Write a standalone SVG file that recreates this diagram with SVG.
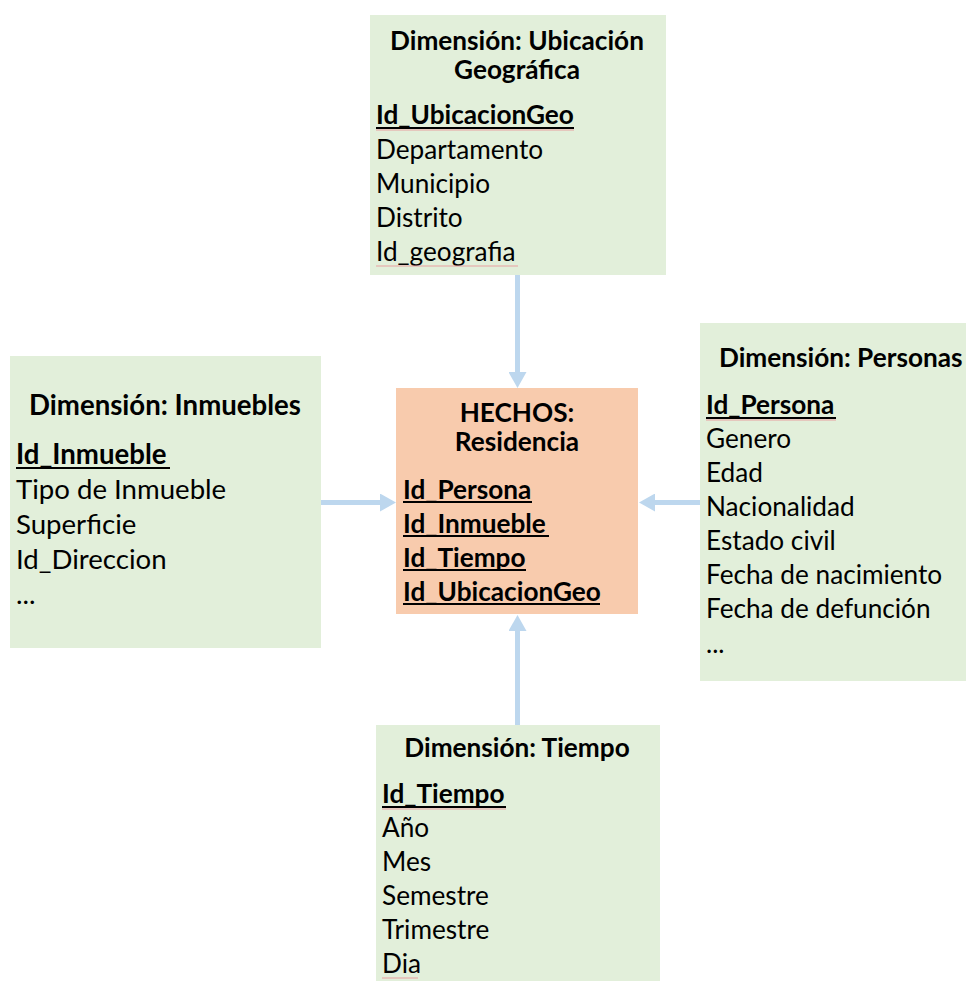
<svg xmlns="http://www.w3.org/2000/svg" width="966" height="981" viewBox="0 0 966 981">
  <style>
    .dim { fill: #E2EFDA; }
    .fact { fill: #F8CBAD; }
    text { font-family: Lato, "Open Sans", "Liberation Sans", sans-serif; font-size: 26.2px; fill: #000; }
    .t { font-weight: bold; text-anchor: middle; }
    .k { font-weight: bold; }
    .big { font-size: 27.6px; }
    .ul { stroke: #000; stroke-width: 2; }
    .sp { stroke: #E8A0A0; stroke-width: 1.2; fill: none; }
    .conn { stroke: #BDD7EE; stroke-width: 5; fill: none; marker-end: url(#head); }
  </style>
  <defs>
    <marker id="head" markerUnits="userSpaceOnUse" markerWidth="16" markerHeight="18" refX="0" refY="9" orient="auto">
      <path d="M0,0 L16,9 L0,18 Z" fill="#BDD7EE"/>
    </marker>
  </defs>
  <rect width="966" height="981" fill="#fff"/>

  <!-- connectors: each dimension points to the fact table -->
  <g id="connectors">
    <line class="conn" x1="517.5" y1="275" x2="517.5" y2="372"/>
    <line class="conn" x1="517.5" y1="725" x2="517.5" y2="631"/>
    <line class="conn" x1="321" y1="502.5" x2="380" y2="502.5"/>
    <line class="conn" x1="700" y1="502.5" x2="655" y2="502.5"/>
  </g>

  <!-- Dimensión: Ubicación Geográfica -->
  <g id="dim-ubicacion">
    <rect class="dim" x="370" y="15" width="296" height="260"/>
    <text class="t" x="517" y="50">Dimensión: Ubicación</text>
    <text class="t" x="517" y="79">Geográfica</text>
    <text class="k" x="376" y="124">Id_UbicacionGeo</text>
    <line class="ul" x1="376" y1="128" x2="574" y2="128"/>
    <path class="sp" d="M376,130 H574"/>
    <text x="376" y="159">Departamento</text>
    <text x="376" y="193">Municipio</text>
    <text x="376" y="227">Distrito</text>
    <text x="376" y="261">Id_geografia</text>
    <path class="sp" d="M376,266 H518"/>
  </g>

  <!-- HECHOS: Residencia -->
  <g id="hechos">
    <rect class="fact" x="396" y="388" width="242" height="226"/>
    <text class="t" x="517" y="422">HECHOS:</text>
    <text class="t" x="517" y="451">Residencia</text>
    <text class="k" x="403" y="499">Id_Persona</text>
    <line class="ul" x1="403" y1="502" x2="532" y2="502"/>
    <text class="k" x="403" y="533">Id_Inmueble</text>
    <line class="ul" x1="403" y1="536" x2="549" y2="536"/>
    <text class="k" x="403" y="567">Id_Tiempo</text>
    <line class="ul" x1="403" y1="570" x2="526" y2="570"/>
    <text class="k" x="403" y="601">Id_UbicacionGeo</text>
    <line class="ul" x1="403" y1="604" x2="600" y2="604"/>
  </g>

  <!-- Dimensión: Inmuebles -->
  <g id="dim-inmuebles">
    <rect class="dim" x="10" y="356" width="311" height="292"/>
    <text class="t big" x="165" y="415">Dimensión: Inmuebles</text>
    <text class="k big" x="16" y="464">Id_Inmueble</text>
    <line class="ul" x1="16" y1="468" x2="170" y2="468"/>
    <text class="big" x="16" y="499">Tipo de Inmueble</text>
    <text class="big" x="16" y="534">Superficie</text>
    <text class="big" x="16" y="569">Id_Direccion</text>
    <text class="big" x="16" y="604">...</text>
  </g>

  <!-- Dimensión: Personas -->
  <g id="dim-personas">
    <rect class="dim" x="700" y="323" width="266" height="358"/>
    <text class="k" x="719" y="367">Dimensión: Personas</text>
    <text class="k" x="706" y="414">Id_Persona</text>
    <line class="ul" x1="706" y1="418" x2="836" y2="418"/>
    <path class="sp" d="M706,420 H836"/>
    <text x="706" y="448">Genero</text>
    <text x="706" y="482">Edad</text>
    <text x="706" y="516">Nacionalidad</text>
    <text x="706" y="550">Estado civil</text>
    <text x="706" y="584">Fecha de nacimiento</text>
    <text x="706" y="618">Fecha de defunción</text>
    <text x="706" y="653">...</text>
  </g>

  <!-- Dimensión: Tiempo -->
  <g id="dim-tiempo">
    <rect class="dim" x="376" y="725" width="284" height="256"/>
    <text class="t" x="517" y="757">Dimensión: Tiempo</text>
    <text class="k" x="382" y="803">Id_Tiempo</text>
    <line class="ul" x1="382" y1="807" x2="506" y2="807"/>
    <path class="sp" d="M382,809 H506"/>
    <text x="382" y="837">Año</text>
    <text x="382" y="871">Mes</text>
    <text x="382" y="905">Semestre</text>
    <text x="382" y="939">Trimestre</text>
    <text x="382" y="973">Dia</text>
    <path class="sp" d="M382,978 H418"/>
  </g>
</svg>
